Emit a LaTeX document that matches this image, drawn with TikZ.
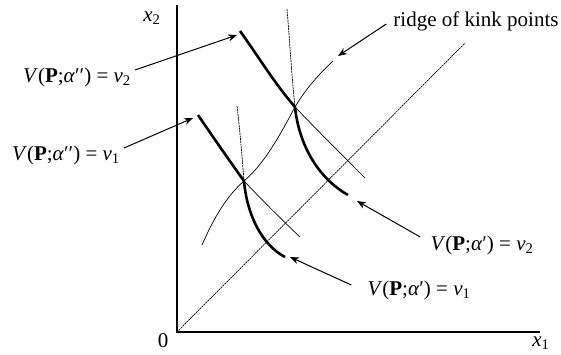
\documentclass[tikz,border=0pt]{standalone}
\usepackage{fontspec}
\setmainfont{Liberation Serif}
\usetikzlibrary{arrows.meta}
\newcommand\vlab[2]{\textit{V}(\textbf{P};\textit{α}#1) = \textit{v}\textsubscript{#2}}
\begin{document}
\begin{tikzpicture}[x=1pt,y=-1pt,
  thickc/.style={line width=2.6pt},
  thinc/.style={line width=0.7pt},
  finedash/.style={line width=0.7pt, dash pattern=on 2pt off 0.7pt},
  axis/.style={line width=1.8pt},
  lab/.style={font=\fontsize{21}{25}\selectfont, inner sep=0pt},
  arr/.style={line width=1pt, -{Stealth[length=9pt,width=7pt]}}]
\useasboundingbox (0,0) rectangle (561,354);
% axes
\coordinate (O) at (177,332);
\coordinate (ytop) at (177,5);
\coordinate (xend) at (540,332);
\draw[axis] (ytop) -- (O) -- (xend);
\node[lab] (x2) at (152,18) {\textit{x}\textsubscript{2}};
\node[lab] (x1) at (541,343) {\textit{x}\textsubscript{1}};
\node[lab] (zero) at (163,341) {0};
% 45 degree line
\coordinate (dend) at (465,43);
\draw[finedash] (O) -- (dend);
% kinks
\coordinate (K2) at (295,107);
\coordinate (K1) at (244,181);
% upper (v2) curves
\coordinate (A2s) at (240,31);
\coordinate (A2e) at (365,178);
\coordinate (B2s) at (287,9);
\coordinate (B2e) at (348,195);
\draw[thickc] (A2s) .. controls (258,56) and (275,84) .. (K2);
\draw[thinc] (K2) .. controls (318,131) and (342,155) .. (A2e);
\draw[finedash] (B2s) .. controls (290,45) and (292,80) .. (K2);
\draw[thickc] (K2) .. controls (299,145) and (318,178) .. (B2e);
% lower (v1) curves
\coordinate (A1s) at (198,115);
\coordinate (A1e) at (300,237);
\coordinate (B1s) at (237,106);
\coordinate (B1e) at (285,257);
\draw[thickc] (A1s) .. controls (213,137) and (229,160) .. (K1);
\draw[thinc] (K1) .. controls (262,200) and (281,219) .. (A1e);
\draw[finedash] (B1s) .. controls (240,131) and (242,156) .. (K1);
\draw[thickc] (K1) .. controls (247,215) and (262,245) .. (B1e);
% ridge
\coordinate (Rs) at (202,245);
\coordinate (Re) at (333,61);
\draw[thinc] (Rs) .. controls (215,215) and (228,195) .. (K1)
  .. controls (265,163) and (280,135) .. (K2)
  .. controls (305,90) and (318,75) .. (Re);
% labels
\node[lab] (ridge) at (476,21) {ridge of kink points};
\node[lab] (L2) at (77,77) {\vlab{′′}{2}};
\node[lab] (L1) at (66,155) {\vlab{′′}{1}};
\node[lab] (R2) at (482,245) {\vlab{′}{2}};
\node[lab] (R1) at (419,290) {\vlab{′}{1}};
% arrow targets
\coordinate (rt) at (338,56);
\coordinate (l2t) at (237,35);
\coordinate (l1t) at (193,118);
\coordinate (r2t) at (357,201);
\coordinate (r1t) at (290,257);
\draw[arr] ([shift={(-7,3)}]ridge.west) -- (rt);
\draw[arr] ([shift={(4,-7)}]L2.east) -- (l2t);
\draw[arr] ([shift={(4,-7)}]L1.east) -- (l1t);
\draw[arr] ([shift={(-10,-8)}]R2.west) -- (r2t);
\draw[arr] ([shift={(-16,-5)}]R1.west) -- (r1t);
\end{tikzpicture}
\end{document}
